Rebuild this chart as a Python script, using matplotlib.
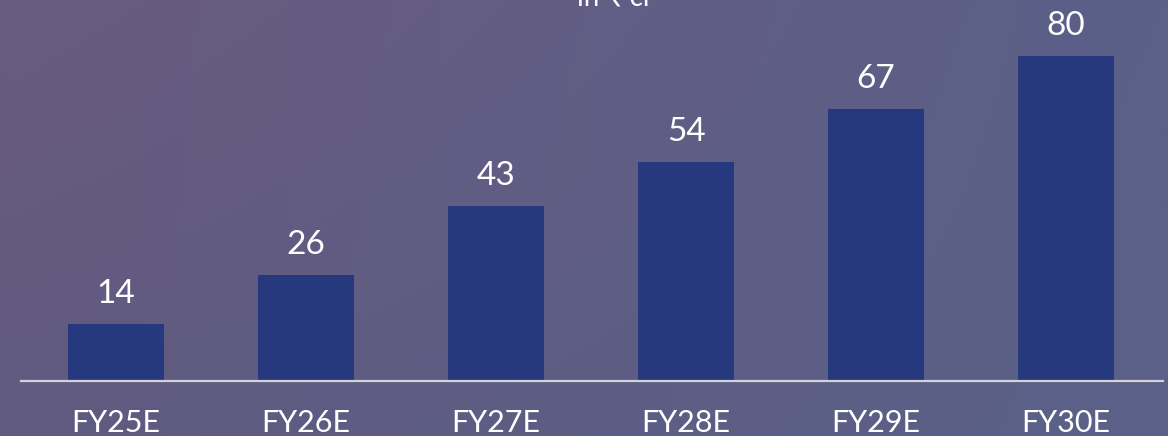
import matplotlib
matplotlib.use('Agg')
import matplotlib.pyplot as plt
import numpy as np

# chart data
years = ['FY25E', 'FY26E', 'FY27E', 'FY28E', 'FY29E', 'FY30E']
values = [14, 26, 43, 54, 67, 80]
unit_label = 'in \u20b9 cr'

plt.rcParams['font.family'] = ['Lato', 'DejaVu Sans']

W, H = 1168, 436
fig = plt.figure(figsize=(W / 100, H / 100), dpi=100)

# background gradient (mauve on the left, slate blue on the right)
bg_ax = fig.add_axes([0, 0, 1, 1])
tl = np.array([106, 90, 128]) / 255
tr = np.array([90, 96, 136]) / 255
bl = np.array([96, 90, 128]) / 255
br = np.array([90, 97, 136]) / 255
u = np.linspace(0, 1, 200)[None, :, None]
v = np.linspace(0, 1, 80)[:, None, None]
grad = (1 - v) * ((1 - u) * tl + u * tr) + v * ((1 - u) * bl + u * br)
bg_ax.imshow(grad, aspect='auto', extent=[0, 1, 0, 1], interpolation='bilinear')
bg_ax.axis('off')

# main axes: left 21px, right 1163px, baseline at y=381px from top
ax = fig.add_axes([21 / W, (H - 381) / H, (1163 - 21) / W, 381 / H])
ax.patch.set_alpha(0)
x = np.arange(len(years))
ax.bar(x, values, width=0.505, color='#26397e', zorder=2)
ax.set_xlim(-0.5, 5.51)
ax.set_ylim(0, 381 / 4.06)

for xi, val in zip(x, values):
    ax.annotate(str(val), (xi, val), xytext=(0, 21), textcoords='offset pixels',
                ha='center', va='baseline', color='white', fontsize=24)

for side in ['top', 'right', 'left']:
    ax.spines[side].set_visible(False)
ax.spines['bottom'].set_color('#d2d2da')
ax.spines['bottom'].set_linewidth(1.6)
ax.set_yticks([])
ax.set_xticks(x)
ax.set_xticklabels(years, color='white', fontsize=22)
ax.tick_params(axis='x', length=0, pad=20.5)

fig.text(615 / W, 1 - 6 / H, unit_label, ha='center', va='baseline',
         color='white', fontsize=20)

fig.savefig('out.png', dpi=100)
